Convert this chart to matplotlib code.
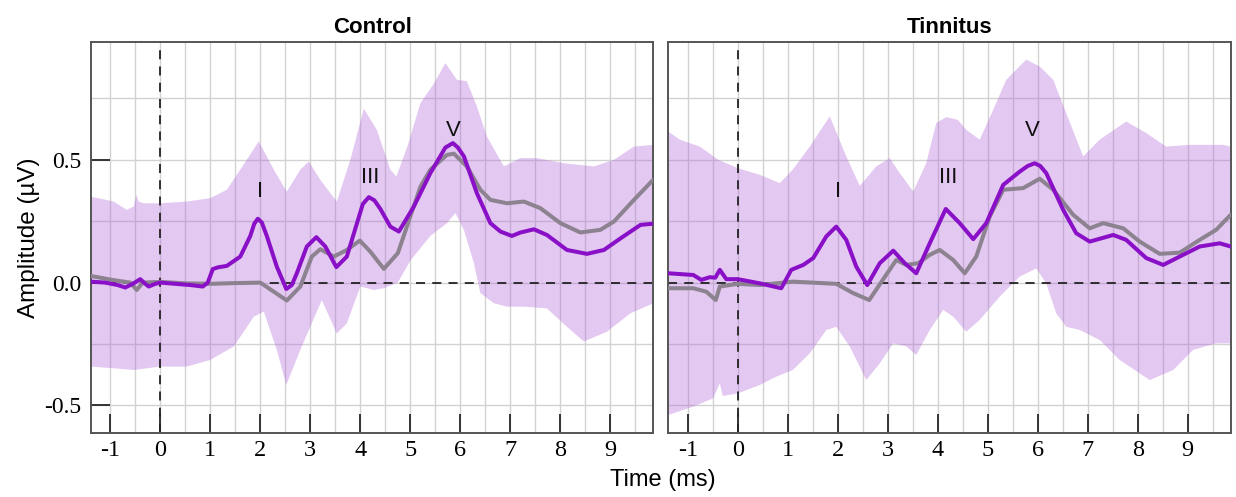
import matplotlib
matplotlib.use('Agg')
import matplotlib.pyplot as plt
import numpy as np

# ABR grand averages, amplitude in uV vs time in ms
# Control group
ctrl_t = [-1.39, -1.1, -0.85, -0.7, -0.55, -0.4, -0.3, -0.23, -0.1, 0.0, 0.3, 0.6, 0.85, 0.95,
          1.05, 1.15, 1.33, 1.6, 1.8, 1.88, 1.95, 2.03, 2.13, 2.33, 2.52, 2.63, 2.73, 2.93, 3.12,
          3.3, 3.52, 3.73, 3.93, 4.05, 4.17, 4.28, 4.4, 4.6, 4.77, 5.07, 5.4, 5.7, 5.85, 5.95,
          6.07, 6.33, 6.6, 6.8, 7.03, 7.2, 7.47, 7.73, 8.13, 8.53, 8.87, 9.2, 9.6, 9.86]
ctrl_tinn = [0.004, 0.0, -0.01, -0.02, -0.005, 0.014, -0.005, -0.016, -0.005, 0.0, -0.005, -0.01,
             -0.016, 0.0, 0.055, 0.062, 0.068, 0.106, 0.19, 0.24, 0.26, 0.245, 0.19, 0.065, -0.026,
             -0.01, 0.038, 0.147, 0.185, 0.147, 0.063, 0.106, 0.24, 0.32, 0.348, 0.335, 0.30,
             0.228, 0.208, 0.31, 0.446, 0.55, 0.568, 0.55, 0.514, 0.364, 0.242, 0.208, 0.19,
             0.204, 0.217, 0.194, 0.133, 0.117, 0.133, 0.18, 0.235, 0.24]

ctrl_t2 = [-1.39, -0.93, -0.6, -0.47, -0.35, 0.0, 0.5, 1.0, 1.5, 2.0, 2.27, 2.53, 2.8, 3.03, 3.2,
           3.47, 3.73, 3.99, 4.2, 4.47, 4.75, 5.0, 5.2, 5.4, 5.73, 5.87, 6.13, 6.4, 6.6, 6.93,
           7.27, 7.6, 8.0, 8.4, 8.8, 9.07, 9.47, 9.86]
ctrl_ctrl = [0.027, 0.01, 0.0, -0.03, 0.0, 0.003, -0.003, -0.005, -0.002, 0.0, -0.037, -0.073,
             -0.016, 0.106, 0.136, 0.106, 0.133, 0.171, 0.126, 0.056, 0.12, 0.27, 0.39, 0.46, 0.52,
             0.525, 0.473, 0.378, 0.337, 0.323, 0.33, 0.303, 0.242, 0.204, 0.215, 0.249, 0.337, 0.42]

ctrl_up_t = [-1.39, -0.93, -0.67, -0.53, -0.48, -0.43, -0.33, 0.0, 0.53, 1.0, 1.33, 1.6, 1.97,
             2.27, 2.53, 2.8, 2.97, 3.2, 3.53, 3.8, 4.07, 4.33, 4.6, 4.72, 4.95, 5.2, 5.47, 5.7,
             5.93, 6.13, 6.33, 6.53, 6.87, 7.2, 7.53, 8.07, 8.67, 9.07, 9.47, 9.86]
ctrl_up = [0.35, 0.33, 0.296, 0.31, 0.357, 0.33, 0.323, 0.323, 0.33, 0.344, 0.378, 0.46, 0.575,
           0.46, 0.37, 0.46, 0.493, 0.418, 0.33, 0.5, 0.708, 0.622, 0.46, 0.432, 0.56, 0.73, 0.81,
           0.894, 0.826, 0.82, 0.717, 0.595, 0.473, 0.507, 0.507, 0.486, 0.473, 0.5, 0.554, 0.561]

ctrl_lo_t = [-1.39, -0.93, -0.53, 0.0, 0.53, 1.0, 1.47, 1.87, 2.07, 2.33, 2.52, 2.8, 3.23, 3.53,
             3.73, 4.0, 4.27, 4.47, 4.75, 5.0, 5.4, 5.73, 5.9, 6.07, 6.27, 6.4, 6.67, 6.93, 7.27,
             7.73, 8.13, 8.47, 8.93, 9.4, 9.86]
ctrl_lo = [-0.342, -0.349, -0.356, -0.342, -0.342, -0.315, -0.26, -0.139, -0.118, -0.274, -0.417,
           -0.274, -0.071, -0.207, -0.166, -0.016, -0.03, -0.023, 0.0, 0.09, 0.19, 0.242, 0.283,
           0.215, 0.079, -0.043, -0.084, -0.098, -0.098, -0.105, -0.18, -0.24, -0.2, -0.125, -0.084]

# Tinnitus group
tin_t = [-1.39, -0.89, -0.73, -0.56, -0.45, -0.36, -0.23, 0.0, 0.44, 0.87, 1.07, 1.31, 1.51, 1.77,
         1.97, 2.17, 2.37, 2.59, 2.84, 3.11, 3.34, 3.57, 3.84, 4.16, 4.44, 4.71, 4.97, 5.31, 5.64,
         5.8, 5.94, 6.05, 6.17, 6.51, 6.77, 7.04, 7.51, 7.77, 8.17, 8.51, 8.84, 9.24, 9.64, 9.86]
tin_tinn = [0.038, 0.031, 0.011, 0.022, 0.02, 0.052, 0.014, 0.014, -0.003, -0.023, 0.052, 0.072,
            0.1, 0.188, 0.228, 0.174, 0.065, -0.01, 0.079, 0.13, 0.079, 0.038, 0.16, 0.3, 0.242,
            0.177, 0.242, 0.398, 0.452, 0.475, 0.486, 0.475, 0.446, 0.296, 0.201, 0.167, 0.194,
            0.174, 0.1, 0.072, 0.106, 0.147, 0.16, 0.147]

tin_t2 = [-1.39, -0.89, -0.63, -0.44, -0.36, -0.16, 0.0, 0.44, 1.1, 1.97, 2.31, 2.63, 2.9, 3.17,
          3.37, 3.61, 3.84, 4.04, 4.31, 4.54, 4.77, 5.04, 5.31, 5.71, 6.04, 6.31, 6.71, 7.04,
          7.31, 7.71, 8.04, 8.44, 8.84, 9.24, 9.57, 9.86]
tin_ctrl = [-0.023, -0.023, -0.037, -0.071, -0.016, -0.01, -0.005, -0.01, 0.004, -0.005, -0.043,
            -0.071, 0.011, 0.092, 0.072, 0.079, 0.113, 0.133, 0.092, 0.038, 0.106, 0.269, 0.378,
            0.385, 0.423, 0.378, 0.276, 0.221, 0.242, 0.221, 0.167, 0.117, 0.122, 0.174, 0.215,
            0.276]

tin_up_t = [-1.39, -1.16, -0.76, -0.39, 0.0, 0.44, 0.84, 1.1, 1.44, 1.84, 2.17, 2.44, 2.77, 3.04,
            3.24, 3.51, 3.77, 3.97, 4.17, 4.4, 4.57, 4.84, 5.11, 5.37, 5.77, 6.04, 6.31, 6.57,
            6.91, 7.24, 7.77, 8.17, 8.57, 9.04, 9.71, 9.86]
tin_up = [0.615, 0.582, 0.554, 0.5, 0.466, 0.439, 0.405, 0.46, 0.554, 0.677, 0.514, 0.394, 0.473,
          0.507, 0.446, 0.371, 0.486, 0.65, 0.674, 0.663, 0.622, 0.582, 0.704, 0.826, 0.908, 0.88,
          0.826, 0.69, 0.514, 0.582, 0.656, 0.609, 0.554, 0.561, 0.561, 0.554]

tin_lo_t = [-1.39, -0.89, -0.49, -0.36, -0.3, 0.0, 0.44, 0.77, 1.1, 1.44, 1.77, 1.97, 2.24, 2.57,
            2.84, 3.11, 3.37, 3.57, 3.84, 4.11, 4.31, 4.57, 4.84, 5.24, 5.64, 5.97, 6.17, 6.37,
            6.57, 6.84, 7.24, 7.64, 8.24, 8.71, 9.11, 9.57, 9.86]
tin_lo = [-0.539, -0.505, -0.471, -0.41, -0.462, -0.451, -0.417, -0.383, -0.356, -0.288, -0.193,
          -0.18, -0.26, -0.397, -0.329, -0.247, -0.26, -0.295, -0.193, -0.111, -0.139, -0.2,
          -0.152, -0.057, 0.024, 0.058, -0.003, -0.125, -0.18, -0.193, -0.234, -0.315, -0.397,
          -0.356, -0.274, -0.247, -0.247]

titles = ['Control', 'Tinnitus']
wave_names = ['I', 'III', 'V']
wave_t = [[2.0, 4.2, 5.85], [2.0, 4.2, 5.9]]
wave_y = [[0.37, 0.428, 0.618], [0.37, 0.428, 0.618]]

panels = [
    (ctrl_t, ctrl_tinn, ctrl_t2, ctrl_ctrl, ctrl_up_t, ctrl_up, ctrl_lo_t, ctrl_lo),
    (tin_t, tin_tinn, tin_t2, tin_ctrl, tin_up_t, tin_up, tin_lo_t, tin_lo),
]

PURPLE = '#8a10c8'
GRAY = '#8c8290'
BAND = '#b36ad9'
SERIF = 'Liberation Serif'
SANS = 'Liberation Sans'

fig = plt.figure(figsize=(12.36, 4.97), dpi=100)
axes = [fig.add_axes([0.0734, 0.1285, 0.4553, 0.7876]),
        fig.add_axes([0.5407, 0.1285, 0.4550, 0.7876])]

for i, (ax, data) in enumerate(zip(axes, panels)):
    t1, y1, t2, y2, ut, uy, lt, ly = data

    # shaded band: upper edge then lower edge reversed
    bx = list(ut) + list(lt)[::-1]
    by = list(uy) + list(ly)[::-1]
    ax.fill(bx, by, color=BAND, alpha=0.36, lw=0, zorder=1)

    ax.axhline(0, color='#222222', lw=1.3, ls=(0, (5, 4)), zorder=2.5)
    ax.axvline(0, color='#222222', lw=1.3, ls=(0, (5, 4)), zorder=2.5)

    ax.plot(t2, y2, color=GRAY, lw=2.9, solid_capstyle='round', solid_joinstyle='round', zorder=3)
    ax.plot(t1, y1, color=PURPLE, lw=2.9, solid_capstyle='round', solid_joinstyle='round', zorder=4)

    for name, wx, wy in zip(wave_names, wave_t[i], wave_y[i]):
        ax.text(wx, wy, name, ha='center', va='center', fontsize=16,
                family=SANS, color='#111111', zorder=5)

    ax.set_xlim(-1.39, 9.86)
    ax.set_ylim(-0.613, 0.981)

    ax.set_xticks(np.arange(-1, 10, 1))
    ax.set_xticklabels([str(v) for v in range(-1, 10)])
    ax.set_xticks(np.arange(-1, 10, 0.5), minor=True)
    ax.set_yticks([-0.5, 0.0, 0.5])
    ax.set_yticks([-0.25, 0.25, 0.75], minor=True)
    ax.tick_params(axis='x', which='major', direction='in', length=14, width=1.4,
                   color='#333333', pad=5, labelsize=17.5, labelfontfamily=SERIF)
    ax.tick_params(axis='x', which='minor', bottom=False)
    if i == 0:
        ax.set_yticklabels(['-0.5', '0.0', '0.5'])
        ax.set_ylabel('Amplitude (\u00b5V)', family=SANS, fontsize=17.5, labelpad=3)
        ax.tick_params(axis='y', which='major', direction='in', length=14, width=1.4,
                       color='#333333', pad=7, labelsize=17, labelfontfamily=SERIF)
    else:
        ax.tick_params(axis='y', which='major', left=False, labelleft=False)
    ax.tick_params(axis='y', which='minor', left=False)

    ax.grid(True, which='both', color='#d2d2d2', lw=1.0, zorder=0)
    ax.set_axisbelow(True)
    for sp in ax.spines.values():
        sp.set_color('#555555')
        sp.set_linewidth(1.4)

    ax.set_title(titles[i], family=SANS, fontsize=16, fontweight='bold', pad=6)

fig.text(0.536, 0.034, 'Time (ms)', ha='center', va='center', family=SANS, fontsize=17)

plt.savefig('out.png', dpi=100, facecolor='white')
